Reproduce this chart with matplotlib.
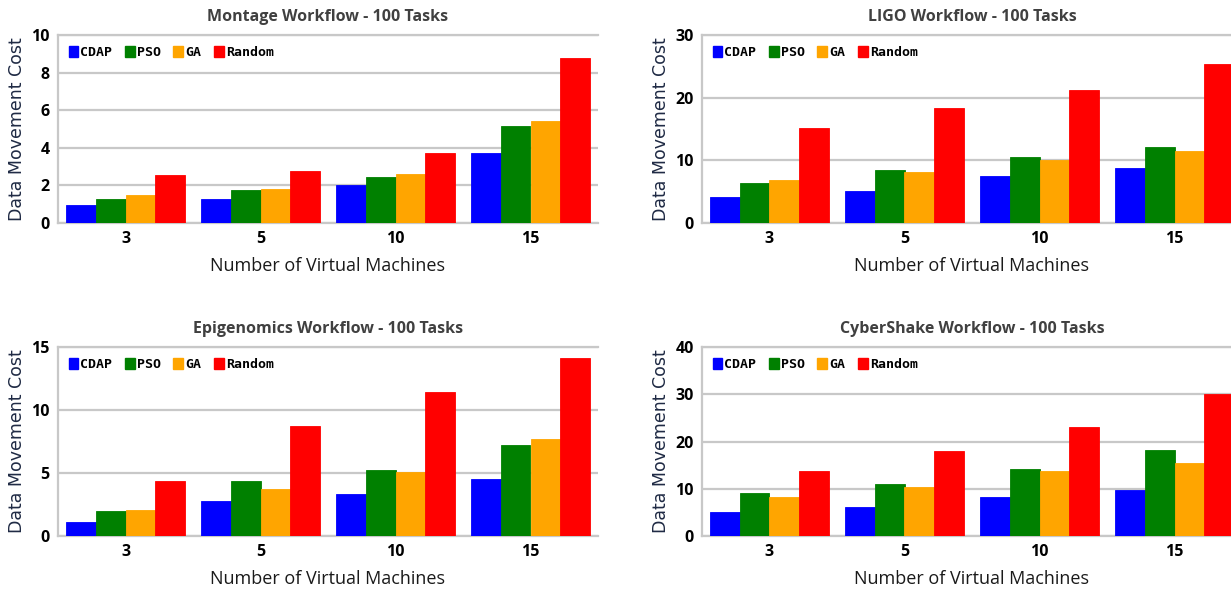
import matplotlib
matplotlib.use("Agg")
import matplotlib.pyplot as plt
import numpy as np
from matplotlib.patches import Patch
from matplotlib import font_manager

vm_labels = ["3", "5", "10", "15"]
methods = ["CDAP", "PSO", "GA", "Random"]
colors = ["#0000ff", "#008000", "#ffa500", "#ff0000"]

montage = {"CDAP": [0.95, 1.3, 2.0, 3.7], "PSO": [1.3, 1.75, 2.45, 5.15],
           "GA": [1.5, 1.8, 2.6, 5.45], "Random": [2.55, 2.75, 3.7, 8.8]}
ligo = {"CDAP": [4.2, 5.1, 7.5, 8.7], "PSO": [6.4, 8.5, 10.6, 12.1],
        "GA": [6.9, 8.2, 10.1, 11.5], "Random": [15.2, 18.3, 21.3, 25.4]}
epigenomics = {"CDAP": [1.1, 2.8, 3.3, 4.5], "PSO": [1.95, 4.4, 5.2, 7.25],
               "GA": [2.05, 3.7, 5.05, 7.7], "Random": [4.4, 8.75, 11.45, 14.15]}
cybershake = {"CDAP": [5.0, 6.1, 8.3, 9.8], "PSO": [9.1, 11.1, 14.1, 18.2],
              "GA": [8.3, 10.4, 13.7, 15.4], "Random": [13.7, 18.0, 23.0, 30.1]}

titles = ["Montage Workflow - 100 Tasks", "LIGO Workflow - 100 Tasks",
          "Epigenomics Workflow - 100 Tasks", "CyberShake Workflow - 100 Tasks"]
datasets = [montage, ligo, epigenomics, cybershake]
ymaxes = [10, 30, 15, 40]
ysteps = [2, 10, 5, 10]

available = {f.name for f in font_manager.fontManager.ttflist}
title_font = "Liberation Sans Narrow" if "Liberation Sans Narrow" in available else "Open Sans"
title_size = 13 if title_font == "Liberation Sans Narrow" else 11.5

W, H = 1231, 589
fig = plt.figure(figsize=(W / 100, H / 100), dpi=100)

def box(l, r, t, b):
    return [l / W, 1 - b / H, (r - l) / W, (b - t) / H]

positions = [box(58, 598, 35, 223), box(702, 1242, 35, 223),
             box(58, 598, 347, 536), box(702, 1242, 347, 536)]

bw = 0.219
x = np.arange(len(vm_labels))
for pos, title, data, ymax, ystep in zip(positions, titles, datasets, ymaxes, ysteps):
    ax = fig.add_axes(pos)
    for i, m in enumerate(methods):
        ax.bar(x + (i - 1.5) * bw, data[m], width=bw, color=colors[i],
               edgecolor=colors[i], linewidth=0.6, zorder=3)
    ax.set_xlim(-0.5, 3.5)
    ax.set_ylim(0, ymax)
    ax.set_yticks(np.arange(0, ymax + 0.1, ystep))
    ax.yaxis.grid(True, color="#c8c8c8", linewidth=1.6, zorder=0)
    ax.set_axisbelow(True)
    for s in ["left", "bottom", "top"]:
        ax.spines[s].set_color("#c8c8c8")
        ax.spines[s].set_linewidth(1.6)
    ax.spines["right"].set_visible(False)
    ax.tick_params(length=0, pad=6)
    ax.set_xticks(x)
    ax.set_xticklabels(vm_labels)
    for lab in ax.get_xticklabels() + ax.get_yticklabels():
        lab.set_fontfamily("Open Sans")
        lab.set_fontweight("bold")
        lab.set_fontsize(11.5)
        lab.set_color("black")
    ax.set_title(title, fontsize=title_size, fontweight="bold", color="#404040",
                 family=title_font, pad=10)
    ax.set_xlabel("Number of Virtual Machines", fontsize=13, family="Open Sans",
                  color="#1a1a1a", labelpad=7)
    ax.set_ylabel("Data Movement Cost", fontsize=12.5, family="DejaVu Sans",
                  color="#1f2a44", labelpad=4)
    handles = [Patch(facecolor=c, edgecolor=c) for c in colors]
    ax.legend(handles, methods, loc="upper left", ncol=4, frameon=False,
              prop={"family": "DejaVu Sans Mono", "weight": "bold", "size": 9.5},
              handlelength=0.75, handleheight=0.9, handletextpad=0.15,
              columnspacing=0.95, borderaxespad=0.4, bbox_to_anchor=(0.0, 1.0))

fig.savefig("out.png", dpi=100)
